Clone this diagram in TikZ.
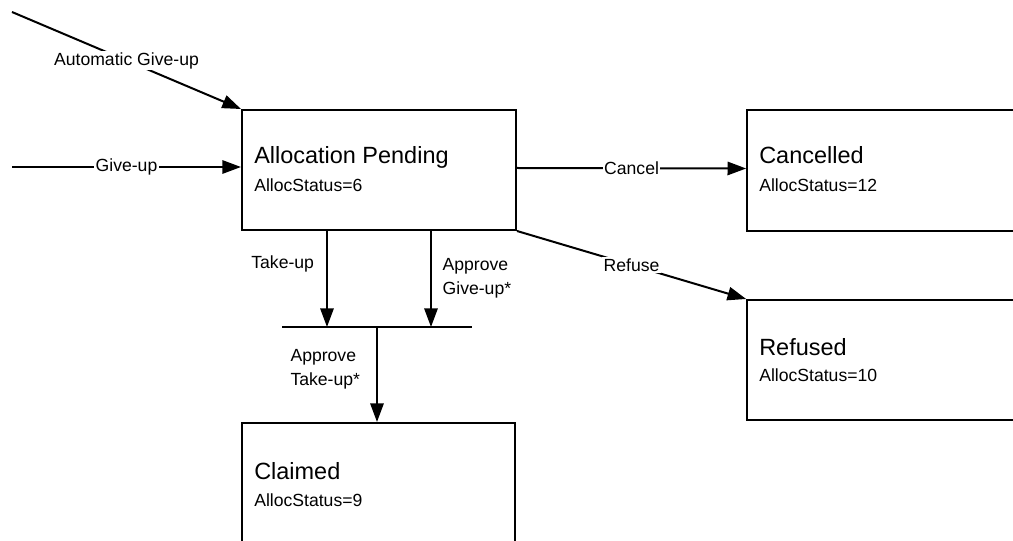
\documentclass[tikz,border=0pt]{standalone}
\usepackage{fontspec}
\setmainfont{Liberation Sans}
\usetikzlibrary{arrows.meta}
\begin{document}
\begin{tikzpicture}[x=0.75pt,y=-0.75pt,
  statebox/.style={draw, line width=1.5pt, rectangle, inner sep=0pt},
  ttl/.style={anchor=base west, inner sep=0pt, font=\fontsize{17.6}{21}\selectfont},
  sub/.style={anchor=base west, inner sep=0pt, font=\fontsize{13.2}{16}\selectfont},
  lbl/.style={fill=white, inner sep=1pt, font=\fontsize{13.2}{18}\selectfont},
  mlbl/.style={inner sep=0pt, align=left, font=\fontsize{13.2}{18}\selectfont},
  arr/.style={line width=1.5pt, -{Triangle[length=14pt, width=10pt]}},
  bar/.style={line width=0.8pt}]
\useasboundingbox (0,0) rectangle (1013,541);
\clip (0,0) rectangle (1013,541);
\fill[white] (0,0) rectangle (1013,541);

% state boxes
\node[statebox, minimum width=205.5pt, minimum height=90pt] (ap) at (379,170) {};
\node[statebox, minimum width=212pt, minimum height=90.75pt] (cn) at (888.5,170.5) {};
\node[statebox, minimum width=212pt, minimum height=90pt] (rf) at (888.5,360) {};
\node[statebox, minimum width=204.75pt, minimum height=105pt] (cl) at (378.5,493) {};

% box texts
\node[ttl] (apT) at (254,164) {Allocation Pending};
\node[sub] (apS) at (254,192) {AllocStatus=6};
\node[ttl] (cnT) at (759,164) {Cancelled};
\node[sub] (cnS) at (759,192) {AllocStatus=12};
\node[ttl] (rfT) at (759,355) {Refused};
\node[sub] (rfS) at (759,382) {AllocStatus=10};
\node[ttl] (clT) at (254,479) {Claimed};
\node[sub] (clS) at (254,506) {AllocStatus=9};

% free ends and join bar
\coordinate (s1) at (12,12);
\coordinate (s2) at (12,167);
\coordinate (barL) at (282,327);
\coordinate (barR) at (472,327);
\coordinate (j1) at (327,327);
\coordinate (j2) at (431,327);
\coordinate (j3) at (377,327);

\draw[bar] (barL) -- (barR);

\draw[arr] (s1) -- (ap.north west) node[lbl, midway] (lAuto) {Automatic Give-up};
\draw[arr] (s2) -- (s2 -| ap.west) node[lbl, midway] (lGive) {Give-up};
\draw[arr] ([yshift=1.5pt]ap.east) -- ([yshift=1.5pt]cn.west) node[lbl, midway] (lCancel) {Cancel};
\draw[arr] (ap.south east) -- (rf.north west) node[lbl, midway] (lRefuse) {Refuse};
\draw[arr] (j1 |- ap.south) -- (j1) node[mlbl, pos=0.34, anchor=east, xshift=-9pt] (lTake) {Take-up};
\draw[arr] (j2 |- ap.south) -- (j2) node[mlbl, pos=0.49, anchor=west, xshift=8pt] (lAppG) {Approve\\Give-up*};
\draw[arr] (j3) -- (j3 |- cl.north) node[mlbl, pos=0.45, anchor=east, xshift=-12pt] (lAppT) {Approve\\Take-up*};
\end{tikzpicture}
\end{document}
